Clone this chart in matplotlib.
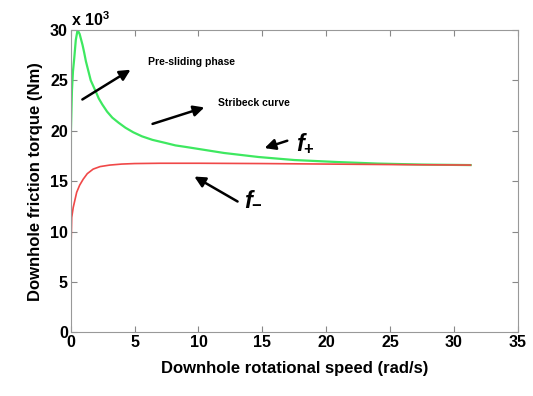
import matplotlib
matplotlib.use("Agg")
import matplotlib.pyplot as plt

plt.rcParams['font.family'] = ['Liberation Sans', 'DejaVu Sans']
plt.rcParams['mathtext.fontset'] = 'custom'
plt.rcParams['mathtext.it'] = 'Liberation Sans:italic:bold'
plt.rcParams['mathtext.rm'] = 'Liberation Sans:bold'

# f+ (Stribeck curve), torque in 10^3 Nm
speed_up = [0, 0.02, 0.1, 0.18, 0.28, 0.4, 0.54, 0.7, 0.93, 1.05, 1.19, 1.37, 1.57,
            1.96, 2.2, 2.48, 2.85, 3.26, 3.75, 4.29, 4.9, 5.58, 6.4, 7.4, 8.2, 9.0,
            10.0, 12.0, 14.7, 17.5, 20.9, 24.0, 27.5, 31.3]
torque_up = [0, 20, 24, 25.9, 27.2, 29, 30, 29.6, 28.5, 27.8, 26.9, 26.0, 25.0,
             23.9, 23.2, 22.6, 21.9, 21.3, 20.8, 20.3, 19.85, 19.45, 19.1, 18.8, 18.55, 18.4,
             18.2, 17.8, 17.4, 17.1, 16.9, 16.75, 16.65, 16.6]

# f- curve
speed_dn = [0, 0.02, 0.08, 0.2, 0.47, 0.7, 0.98, 1.3, 1.76, 2.3, 3.06, 4.0, 5.0, 7, 10, 15, 20, 25, 31.3]
torque_dn = [0, 8, 11.4, 12.4, 13.9, 14.6, 15.2, 15.75, 16.2, 16.45, 16.6, 16.7, 16.75,
             16.78, 16.78, 16.75, 16.7, 16.65, 16.6]

xticks = [0, 5, 10, 15, 20, 25, 30, 35]
yticks = [0, 5, 10, 15, 20, 25, 30]

fig = plt.figure(figsize=(5.33, 3.96), dpi=100)
ax = fig.add_axes([0.1326, 0.1604, 0.839, 0.764])

ax.plot(speed_up, torque_up, color='#3ee860', lw=1.6)
ax.plot(speed_dn, torque_dn, color='#f04848', lw=1.2)

ax.set_xlim(0, 35)
ax.set_ylim(0, 30)
ax.set_xticks(xticks)
ax.set_yticks(yticks)
ax.tick_params(direction='in', length=4, color='#888888', top=True, right=True,
               labelsize=11.5, pad=2)
for lab in ax.get_xticklabels() + ax.get_yticklabels():
    lab.set_fontweight('bold')
for s in ax.spines.values():
    s.set_color('#999999')

ax.set_xlabel('Downhole rotational speed (rad/s)', fontsize=12, fontweight='bold', labelpad=8)
ax.set_ylabel('Downhole friction torque (Nm)', fontsize=12, fontweight='bold', labelpad=5)

fig.text(0.133, 0.935, r'x 10$^{3}$', fontsize=11.5, fontweight='bold')

arrow = dict(arrowstyle='-|>', color='black', lw=1.8, mutation_scale=16)
ax.annotate('', xy=(4.87, 26.2), xytext=(0.73, 22.96), arrowprops=arrow)
ax.annotate('', xy=(10.67, 22.4), xytext=(6.2, 20.6), arrowprops=arrow)
ax.annotate('', xy=(14.97, 18.2), xytext=(17.16, 19.1), arrowprops=arrow)
ax.annotate('', xy=(9.49, 15.6), xytext=(13.25, 12.85), arrowprops=arrow)

ax.text(6.05, 26.8, 'Pre-sliding phase', fontsize=7.5, fontweight='bold', va='center')
ax.text(11.53, 22.8, 'Stribeck curve', fontsize=7.5, fontweight='bold', va='center')
ax.text(17.6, 18.1, r'$f_{+}$', fontsize=17, va='baseline')
ax.text(13.57, 12.6, r'$f_{-}$', fontsize=17, va='baseline')

fig.savefig('out.png', dpi=100)
